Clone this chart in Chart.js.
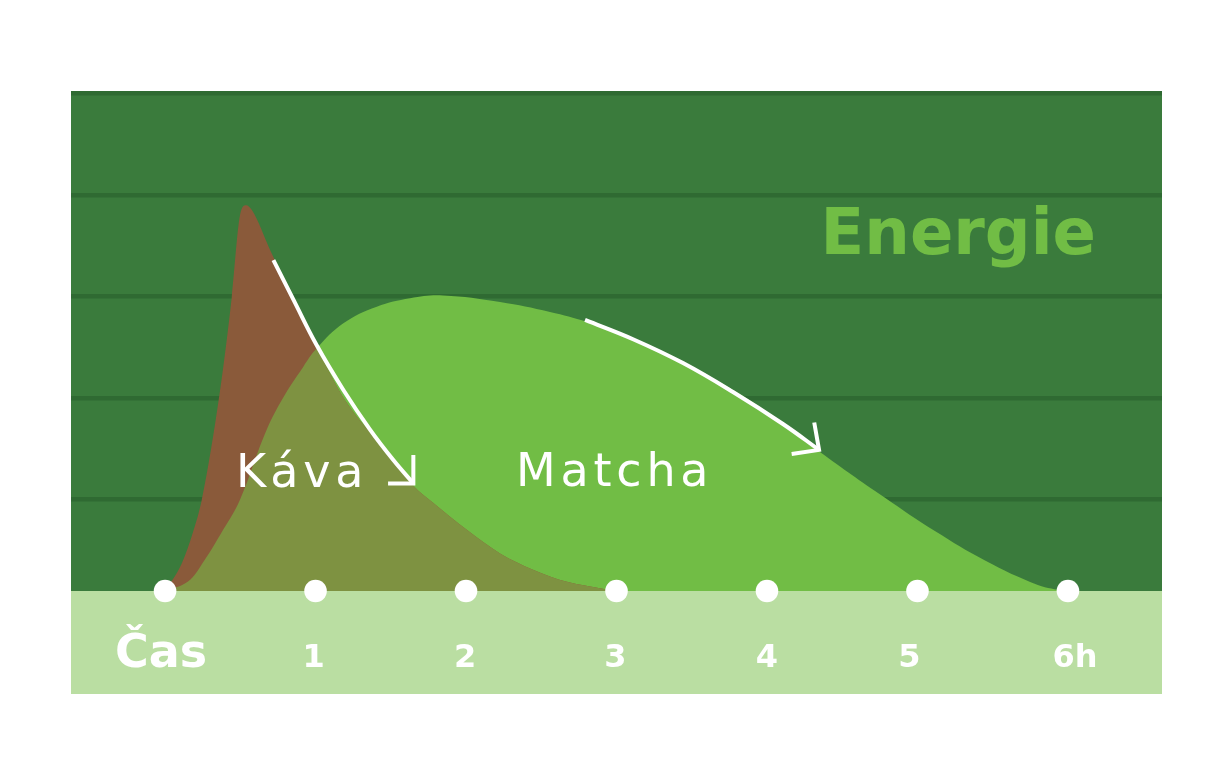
<!DOCTYPE html>
<html>
<head>
<meta charset="utf-8">
<script src="https://cdn.jsdelivr.net/npm/chart.js@4.4.1/dist/chart.umd.min.js"></script>
<style>
html,body{margin:0;padding:0;background:#ffffff;}
#wrap{width:1227px;height:782px;}
</style>
</head>
<body>
<div id="wrap"><canvas id="c" width="1227" height="782"></canvas></div>
<script>
// ---- data (hours on x, relative energy on y) ----
const hours = [0, 1, 2, 3, 4, 5, 6];
const tickLabels = ['Čas', '1', '2', '3', '4', '5', '6h'];
const gridValues = [0.9, 1.9, 2.9, 3.9, 4.9];

const kavaX = [0, 0.111, 0.188, 0.244, 0.365, 0.443, 0.498, 0.538, 0.578, 0.698, 0.853, 1.010, 1.196, 1.462, 1.648, 1.781, 2.007, 2.226, 2.445, 2.671, 2.890, 2.98];
const kavaY = [0, 0.27, 0.59, 0.90, 1.97, 2.89, 3.70, 3.80, 3.75, 3.36, 2.87, 2.39, 1.88, 1.39, 1.04, 0.87, 0.60, 0.37, 0.21, 0.09, 0.027, 0];

const matchaX = [0, 0.15, 0.252, 0.385, 0.498, 0.664, 0.775, 0.919, 1.008, 1.185, 1.407, 1.628, 1.847, 2.226, 2.558, 2.804, 3.110, 3.442, 3.774, 4.106, 4.352, 4.777, 5.116, 5.449, 5.80, 5.98];
const matchaY = [0, 0.09, 0.28, 0.60, 0.90, 1.55, 1.88, 2.21, 2.39, 2.637, 2.80, 2.884, 2.911, 2.847, 2.749, 2.65, 2.473, 2.24, 1.98, 1.655, 1.37, 0.926, 0.59, 0.30, 0.06, 0];

const kavaArrowX = [0.720, 0.853, 1.008, 1.185, 1.362, 1.517, 1.650];
const kavaArrowY = [3.26, 2.87, 2.42, 1.98, 1.59, 1.29, 1.06];
const kavaHeadX = [1.482, 1.650, 1.650];
const kavaHeadY = [1.06, 1.06, 1.34];

const matchaArrowX = [2.791, 3.110, 3.442, 3.774, 4.106, 4.346];
const matchaArrowY = [2.67, 2.48, 2.245, 1.96, 1.645, 1.39];
const matchaHeadX = [4.164, 4.346, 4.314];
const matchaHeadY = [1.35, 1.39, 1.66];

// ---- helpers ----
const pts = (xs, ys) => xs.map((x, i) => ({ x: x, y: ys[i] }));

const C = {
  bg: '#3a7b3c',
  grid: '#2f6a32',
  band: '#badea2',
  matcha: '#71bd45',
  kava: '#8a5a3a',
  overlap: '#7e9241',
  white: '#ffffff'
};

const KAVA_IDX = 1, MATCHA_IDX = 0;

const decor = {
  id: 'decor',
  beforeDraw(chart) {
    const { ctx, chartArea: a } = chart;
    ctx.save();
    ctx.fillStyle = C.bg;
    ctx.fillRect(a.left, a.top, a.right - a.left, a.bottom - a.top);
    ctx.fillStyle = C.band;
    ctx.fillRect(a.left, a.bottom, a.right - a.left, 103);
    ctx.restore();
  },
  afterDatasetDraw(chart, args) {
    if (args.index !== KAVA_IDX) return;
    const ctx = chart.ctx;
    const baseY = chart.scales.y.getPixelForValue(0);
    const mMeta = chart.getDatasetMeta(MATCHA_IDX);
    const kMeta = chart.getDatasetMeta(KAVA_IDX);
    const mp = mMeta.data, kp = kMeta.data;
    ctx.save();
    ctx.beginPath();
    mMeta.dataset.path(ctx);
    ctx.lineTo(mp[mp.length - 1].x, baseY);
    ctx.lineTo(mp[0].x, baseY);
    ctx.closePath();
    ctx.clip();
    ctx.beginPath();
    kMeta.dataset.path(ctx);
    ctx.lineTo(kp[kp.length - 1].x, baseY);
    ctx.lineTo(kp[0].x, baseY);
    ctx.closePath();
    ctx.fillStyle = C.overlap;
    ctx.fill();
    ctx.restore();
  },
  afterDraw(chart) {
    const { ctx } = chart;
    const xs = chart.scales.x;
    ctx.save();
    ctx.textBaseline = 'alphabetic';
    // Energie
    ctx.fillStyle = C.matcha;
    ctx.font = 'bold 64px "DejaVu Sans"';
    ctx.textAlign = 'right';
    ctx.fillText('Energie', 1096, 254);
    // series labels
    ctx.fillStyle = C.white;
    ctx.textAlign = 'left';
    ctx.font = '46px "DejaVu Sans"';
    try { ctx.letterSpacing = '4.8px'; } catch (e) {}
    ctx.fillText('Káva', 236, 487);
    ctx.fillText('Matcha', 516, 486);
    try { ctx.letterSpacing = '0px'; } catch (e) {}
    // bottom labels
    const offs = [-4, -2, -1, -1, 0, -8, 7];
    ctx.textAlign = 'center';
    hours.forEach((h, i) => {
      ctx.font = i === 0 ? 'bold 46px "DejaVu Sans"' : 'bold 32px "DejaVu Sans"';
      ctx.fillText(tickLabels[i], xs.getPixelForValue(h) + offs[i], 667);
    });
    ctx.restore();
  }
};

const areaStyle = (color, order, mode) => ({
  fill: 'origin',
  backgroundColor: color,
  borderColor: 'rgba(0,0,0,0)',
  borderWidth: 1,
  pointRadius: 0,
  cubicInterpolationMode: mode,
  tension: 0.4,
  order: order
});
const arrowStyle = (curved) => ({
  fill: false,
  borderColor: C.white,
  borderWidth: 4,
  pointRadius: 0,
  tension: curved ? 0.4 : 0,
  borderJoinStyle: 'miter',
  borderCapStyle: 'butt',
  order: 5
});

new Chart(document.getElementById('c'), {
  type: 'line',
  data: {
    datasets: [
      Object.assign({ label: 'Matcha', data: pts(matchaX, matchaY) }, areaStyle(C.matcha, 10, 'default')),
      Object.assign({ label: 'Káva', data: pts(kavaX, kavaY) }, areaStyle(C.kava, 9, 'monotone')),
      Object.assign({ label: 'kavaArrow', data: pts(kavaArrowX, kavaArrowY) }, arrowStyle(true)),
      Object.assign({ label: 'kavaHead', data: pts(kavaHeadX, kavaHeadY) }, arrowStyle(false)),
      Object.assign({ label: 'matchaArrow', data: pts(matchaArrowX, matchaArrowY) }, arrowStyle(true)),
      Object.assign({ label: 'matchaHead', data: pts(matchaHeadX, matchaHeadY) }, arrowStyle(false)),
      {
        label: 'hours',
        data: hours.map(h => ({ x: h, y: 0 })),
        showLine: false,
        pointRadius: 11.3,
        pointBackgroundColor: C.white,
        pointBorderWidth: 0,
        pointBorderColor: C.white,
        clip: false,
        order: 1
      }
    ]
  },
  options: {
    responsive: false,
    animation: false,
    devicePixelRatio: 1,
    layout: { padding: { left: 71, right: 65, top: 91, bottom: 191 } },
    plugins: { legend: { display: false }, tooltip: { enabled: false } },
    events: [],
    scales: {
      x: {
        type: 'linear',
        min: -0.625,
        max: 6.625,
        display: false
      },
      y: {
        type: 'linear',
        min: 0,
        max: 4.925,
        afterBuildTicks(axis) { axis.ticks = gridValues.map(v => ({ value: v })); },
        afterFit(scale) { scale.width = 0; },
        ticks: { display: false },
        border: { display: false },
        grid: { color: C.grid, lineWidth: 4.5, drawTicks: false }
      }
    }
  },
  plugins: [decor]
});
</script>
</body>
</html>
